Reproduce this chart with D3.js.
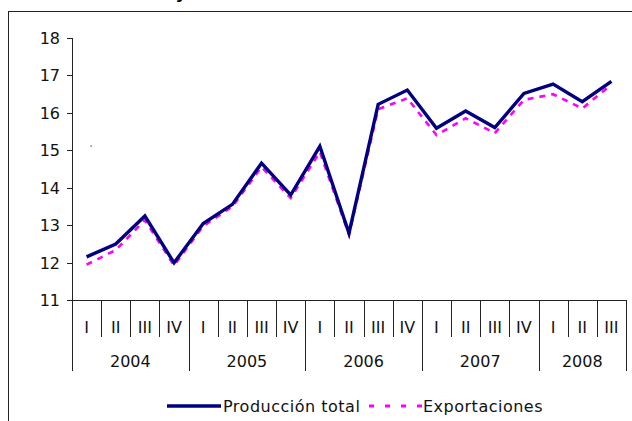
<!DOCTYPE html>
<html>
<head>
<meta charset="utf-8">
<script src="https://cdn.jsdelivr.net/npm/d3@7"></script>
<style>
  html, body { margin: 0; padding: 0; background: #fff; }
  svg { display: block; font-family: "DejaVu Sans", Verdana, sans-serif; }
</style>
</head>
<body>
<div id="chart"></div>
<script>
// ---- datos ----
const quarters = ["I","II","III","IV","I","II","III","IV","I","II","III","IV","I","II","III","IV","I","II","III"];
const years = ["2004","2005","2006","2007","2008"];
const yearOf = [0,0,0,0,1,1,1,1,2,2,2,2,3,3,3,3,4,4,4];
const produccion = [12.16,12.50,13.25,12.00,13.05,13.56,14.66,13.81,15.11,12.79,16.23,16.61,15.59,16.05,15.61,16.52,16.77,16.30,16.84];
const exportaciones = [11.95,12.34,13.14,11.93,12.98,13.50,14.56,13.73,14.96,12.75,16.10,16.39,15.41,15.86,15.46,16.35,16.50,16.12,16.76];
const yTicks = [11,12,13,14,15,16,17,18];

const W = 632, H = 421;
const svg = d3.select("#chart").append("svg")
  .attr("width", W).attr("height", H);

// marco del grafico (se sale de la imagen por la derecha y abajo)
svg.append("rect")
  .attr("x", 8.5).attr("y", 11.5)
  .attr("width", 700).attr("height", 500)
  .attr("fill", "none").attr("stroke", "#222").attr("stroke-width", 1);

// resto del titulo, cortado arriba
svg.append("text")
  .attr("x", 177).attr("y", -1)
  .attr("font-size", 16).attr("font-weight", "bold").attr("font-style", "italic")
  .attr("fill", "#000").text("y");

const x = d3.scaleBand().domain(d3.range(quarters.length)).range([72, 626]).padding(0);
const y = d3.scaleLinear().domain([11, 18]).range([300.3, 38]);

const axisColor = "#222";

// eje Y
const yAxis = svg.append("g");
yAxis.append("line")
  .attr("x1", 72.5).attr("x2", 72.5)
  .attr("y1", y(18)).attr("y2", 371)
  .attr("stroke", axisColor);
yAxis.selectAll("line.tick").data(yTicks).join("line")
  .attr("class", "tick")
  .attr("x1", 67).attr("x2", 72)
  .attr("y1", d => Math.round(y(d)) + 0.5).attr("y2", d => Math.round(y(d)) + 0.5)
  .attr("stroke", axisColor);
yAxis.selectAll("text").data(yTicks).join("text")
  .attr("x", 60).attr("y", d => y(d))
  .attr("dy", "0.36em")
  .attr("text-anchor", "end")
  .attr("font-size", 16).attr("fill", "#111")
  .text(d => d);

// eje X (categorias en dos niveles)
const xAxis = svg.append("g");
xAxis.append("line")
  .attr("x1", 72).attr("x2", 626)
  .attr("y1", 300.5).attr("y2", 300.5)
  .attr("stroke", axisColor);

const bounds = d3.range(quarters.length + 1);
xAxis.selectAll("line.sep").data(bounds).join("line")
  .attr("class", "sep")
  .attr("x1", i => Math.round(i < quarters.length ? x(i) : x(i - 1) + x.bandwidth()) + 0.5)
  .attr("x2", i => Math.round(i < quarters.length ? x(i) : x(i - 1) + x.bandwidth()) + 0.5)
  .attr("y1", 300)
  .attr("y2", i => (i === 0 || i === quarters.length || yearOf[i] !== yearOf[i - 1]) ? 371 : 337)
  .attr("stroke", axisColor);

xAxis.selectAll("text.q").data(quarters).join("text")
  .attr("class", "q")
  .attr("x", (d, i) => x(i) + x.bandwidth() / 2)
  .attr("y", 327).attr("dy", "0.36em")
  .attr("text-anchor", "middle")
  .attr("font-size", 16).attr("fill", "#111")
  .text(d => d);

xAxis.selectAll("text.yr").data(years).join("text")
  .attr("class", "yr")
  .attr("x", (d, k) => {
    const idx = d3.range(quarters.length).filter(i => yearOf[i] === k);
    return (x(idx[0]) + x(idx[idx.length - 1]) + x.bandwidth()) / 2;
  })
  .attr("y", 361).attr("dy", "0.36em")
  .attr("text-anchor", "middle")
  .attr("font-size", 16).attr("fill", "#111")
  .text(d => d);

// punto suelto del original
svg.append("rect").attr("x", 90.5).attr("y", 145.5).attr("width", 1.2).attr("height", 1.2).attr("fill", "#333");

// lineas
const line = d3.line()
  .x((d, i) => x(i) + x.bandwidth() / 2)
  .y(d => y(d));

svg.append("path")
  .datum(exportaciones)
  .attr("d", line)
  .attr("fill", "none")
  .attr("stroke", "#ff00ff")
  .attr("stroke-width", 2.6)
  .attr("stroke-dasharray", "6,6");

svg.append("path")
  .datum(produccion)
  .attr("d", line)
  .attr("fill", "none")
  .attr("stroke", "#000080")
  .attr("stroke-width", 3.4)
  .attr("stroke-linejoin", "miter");

// leyenda
const leg = svg.append("g").attr("font-size", 16).attr("fill", "#111");
leg.append("line")
  .attr("x1", 167).attr("x2", 221).attr("y1", 406).attr("y2", 406)
  .attr("stroke", "#000080").attr("stroke-width", 3.4);
leg.append("text")
  .attr("x", 223).attr("y", 412)
  .attr("letter-spacing", 0.5)
  .text("Producción total");
leg.append("line")
  .attr("x1", 369).attr("x2", 422).attr("y1", 406).attr("y2", 406)
  .attr("stroke", "#ff00ff").attr("stroke-width", 3)
  .attr("stroke-dasharray", "5,11");
leg.append("text")
  .attr("x", 423).attr("y", 412)
  .attr("letter-spacing", 0.5)
  .text("Exportaciones");
</script>
</body>
</html>
